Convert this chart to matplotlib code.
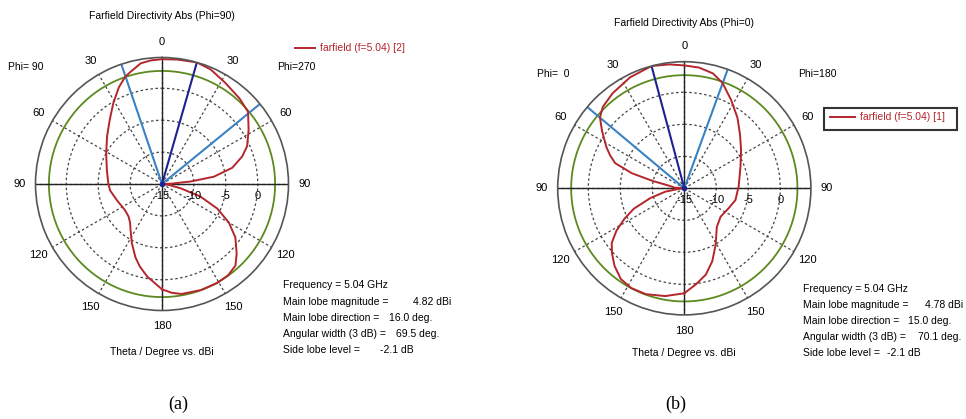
import numpy as np
import matplotlib.pyplot as plt

plt.rcParams['font.family'] = ['Liberation Sans', 'DejaVu Sans']

# (a) cut Phi=90 / Phi=270, theta in degrees (negative = Phi=90 side), directivity in dBi
theta_a = [-180, -176, -171, -165, -160, -153, -146, -140, -134, -125,
           -110, -97, -90, -76, -61, -49, -39, -31, -24, -19,
           -16, -10, -5, 0, 7, 16, 23, 32, 42, 50,
           58, 66, 71, 77, 82, 85, 88, 92, 97, 103,
           108, 114, 120, 126, 133, 138, 144, 151, 160, 170,
           175, 180]
db_a = [1.5, 0.6, -0.3, -1.6, -2.8, -4.6, -6.2, -7.2, -7.7, -7.9,
        -7.5, -6.8, -6.6, -6.1, -5.0, -3.6, -2.0, -0.2, 1.6, 2.75,
        3.2, 4.2, 4.45, 4.55, 4.65, 4.82, 4.5, 3.7, 3.1, 2.6,
        1.0, -0.4, -1.7, -3.7, -6.8, -10.5, -13.5, -15.0, -14.0, -12.0,
        -8.7, -5.5, -2.9, -0.8, 1.0, 2.2, 2.65, 2.75, 2.7, 2.5,
        2.1, 1.5]

# (b) cut Phi=0 / Phi=180
theta_b = [-180, -170, -160, -152, -145, -138, -132, -127, -122, -117,
           -112, -106, -100, -95, -90, -86, -80, -77, -74, -70,
           -66, -62, -55, -50, -45, -37, -26, -15, -7, 0,
           7, 14, 20, 28, 37, 46, 56, 69, 88, 103,
           114, 128, 140, 151, 159, 166, 173, 180]
db_b = [1.4, 2.1, 2.6, 2.65, 2.3, 1.3, 0.2, -0.8, -2.5, -4.5,
        -6.5, -9.5, -12.0, -14.3, -15.0, -13.5, -12.5, -10.0, -6.5, -3.5,
        -2.3, -1.2, 0.7, 2.2, 3.0, 3.6, 4.3, 4.78, 4.5, 4.2,
        4.0, 3.5, 2.5, 0.6, -1.2, -2.9, -4.3, -5.6, -6.5, -6.8,
        -7.4, -7.8, -7.1, -4.9, -2.8, -1.1, 0.1, 1.4]

# summary values
freq = [5.04, 5.04]
main_mag = [4.82, 4.78]
main_dir = [16.0, -15.0]
ang_width = [69.5, 70.1]
side_lobe = [-2.1, -2.1]

theta_ticks = list(range(0, 360, 30))
theta_labels = ['0', '30', '60', '90', '120', '150', '180', '150', '120', '90', '60', '30']
r_ticks = [-15, -10, -5, 0]

RED = '#b3262c'
GREEN = '#5b8a1e'
DARK_BLUE = '#1c2290'
LIGHT_BLUE = '#3b82c4'

W, H = 966, 419
fig = plt.figure(figsize=(W / 100, H / 100), dpi=100)


def px(x, y):
    return x / W, 1 - y / H


def panel(cx, cy, rad, theta, db, peak, mdir, width, sll):
    ax = fig.add_axes([(cx - rad) / W, 1 - (cy + rad) / H, 2 * rad / W, 2 * rad / H],
                      projection='polar')
    ax.set_theta_zero_location('N')
    ax.set_theta_direction(-1)
    rmin = -15
    t = np.deg2rad(theta)
    circ = np.linspace(0, 2 * np.pi, 361)
    ax.plot(circ, np.full_like(circ, peak + sll), color=GREEN, lw=1.3)
    for a in [0, 90, 180, 270]:
        ax.plot([np.deg2rad(a)] * 2, [rmin, peak], color='#222', lw=1.0)
    for a in [mdir - width / 2, mdir + width / 2]:
        ax.plot([np.deg2rad(a)] * 2, [rmin, peak], color=LIGHT_BLUE, lw=1.5)
    ax.plot([np.deg2rad(mdir)] * 2, [rmin, peak], color=DARK_BLUE, lw=1.5)
    ax.plot(t, db, color=RED, lw=1.4)
    ax.plot([0], [rmin], 'o', color=DARK_BLUE, ms=3)
    ax.set_ylim(rmin, peak)
    ax.set_rgrids([-10, -5, 0], labels=['', '', ''])
    ax.set_thetagrids(theta_ticks, theta_labels, fontsize=8)
    ax.tick_params(axis='x', pad=1)
    ax.grid(True, color='#444', ls=(0, (2, 2)), lw=0.9)
    ax.spines['polar'].set_color('#555')
    ax.spines['polar'].set_linewidth(1.2)
    for r in r_ticks:
        ax.annotate(str(r), xy=(np.pi / 2, r), xytext=(0, -12), textcoords='offset pixels',
                    ha='center', va='center', fontsize=8)
    return ax


panel(162, 184, 126.5, theta_a, db_a, main_mag[0], main_dir[0], ang_width[0], side_lobe[0])
panel(684.3, 188.3, 126.6, theta_b, db_b, main_mag[1], main_dir[1], ang_width[1], side_lobe[1])

fs = 7.5
# titles and labels
fig.text(*px(162, 16), 'Farfield Directivity Abs (Phi=90)', ha='center', va='center', fontsize=fs)
fig.text(*px(684, 23), 'Farfield Directivity Abs (Phi=0)', ha='center', va='center', fontsize=fs)
fig.text(*px(8, 67), 'Phi= 90', ha='left', va='center', fontsize=fs)
fig.text(*px(277, 67), 'Phi=270', ha='left', va='center', fontsize=fs)
fig.text(*px(537, 74), 'Phi=  0', ha='left', va='center', fontsize=fs)
fig.text(*px(798, 74), 'Phi=180', ha='left', va='center', fontsize=fs)
fig.text(*px(162, 352), 'Theta / Degree vs. dBi', ha='center', va='center', fontsize=fs)
fig.text(*px(684, 353), 'Theta / Degree vs. dBi', ha='center', va='center', fontsize=fs)

# legends
fig.add_artist(plt.Line2D([295 / W, 315 / W], [1 - 48 / H] * 2, color=RED, lw=1.4))
fig.text(*px(320, 48), 'farfield (f=%.2f) [2]' % freq[0], ha='left', va='center', fontsize=fs, color=RED)
fig.add_artist(plt.Rectangle(px(824, 130), 133 / W, 22 / H, fill=False, ec='#333', lw=1.5))
fig.add_artist(plt.Line2D([830 / W, 855 / W], [1 - 117 / H] * 2, color=RED, lw=1.4))
fig.text(*px(860, 117), 'farfield (f=%.2f) [1]' % freq[1], ha='left', va='center', fontsize=fs, color=RED)

# summary blocks
rows_a = [285, 301.7, 317.7, 334, 350]
labels = ['Frequency = %.2f GHz', 'Main lobe magnitude =', 'Main lobe direction =',
          'Angular width (3 dB) =', 'Side lobe level =']
fig.text(*px(283, rows_a[0]), labels[0] % freq[0], ha='left', va='center', fontsize=fs)
for i in range(1, 5):
    fig.text(*px(283, rows_a[i]), labels[i], ha='left', va='center', fontsize=fs)
fig.text(*px(413, rows_a[1]), '%.2f dBi' % main_mag[0], ha='left', va='center', fontsize=fs)
fig.text(*px(389, rows_a[2]), '%.1f deg.' % abs(main_dir[0]), ha='left', va='center', fontsize=fs)
fig.text(*px(396, rows_a[3]), '%.1f deg.' % ang_width[0], ha='left', va='center', fontsize=fs)
fig.text(*px(380, rows_a[4]), '%.1f dB' % side_lobe[0], ha='left', va='center', fontsize=fs)

rows_b = [289.3, 305, 321, 336.7, 352.7]
fig.text(*px(803, rows_b[0]), labels[0] % freq[1], ha='left', va='center', fontsize=fs)
for i in range(1, 5):
    fig.text(*px(803, rows_b[i]), labels[i], ha='left', va='center', fontsize=fs)
fig.text(*px(925, rows_b[1]), '%.2f dBi' % main_mag[1], ha='left', va='center', fontsize=fs)
fig.text(*px(908, rows_b[2]), '%.1f deg.' % abs(main_dir[1]), ha='left', va='center', fontsize=fs)
fig.text(*px(918, rows_b[3]), '%.1f deg.' % ang_width[1], ha='left', va='center', fontsize=fs)
fig.text(*px(887, rows_b[4]), '%.1f dB' % side_lobe[1], ha='left', va='center', fontsize=fs)

fig.text(*px(178, 404), '(a)', ha='center', va='center', fontsize=13, family='Liberation Serif')
fig.text(*px(676, 404), '(b)', ha='center', va='center', fontsize=13, family='Liberation Serif')

fig.savefig('out.png', dpi=100)
